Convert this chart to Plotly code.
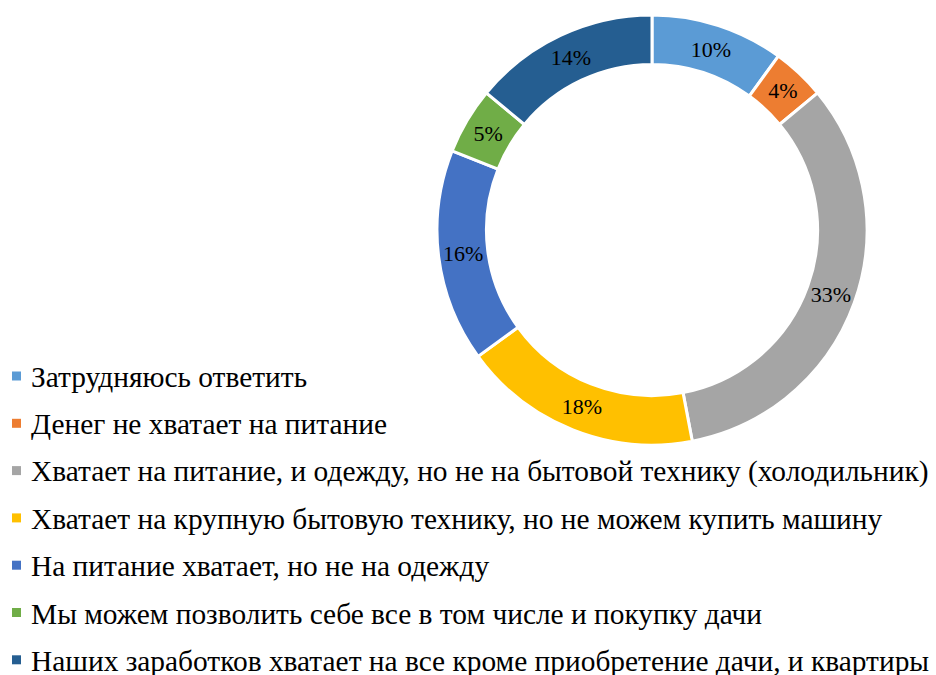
import plotly.graph_objects as go

labels = [
    "Затрудняюсь ответить",
    "Денег не хватает на питание",
    "Хватает на питание, и одежду, но не на бытовой технику (холодильник)",
    "Хватает на крупную бытовую технику, но не можем купить машину",
    "На питание хватает, но не на одежду",
    "Мы можем позволить себе все в том числе и покупку дачи",
    "Наших заработков хватает на все кроме приобретение дачи, и квартиры",
]
values = [10, 4, 33, 18, 16, 5, 14]
colors = ["#5B9BD5", "#ED7D31", "#A5A5A5", "#FFC000", "#4472C4", "#70AD47", "#255E91"]

W, H = 936, 675
FONT = "Liberation Serif"

fig = go.Figure()
fig.add_trace(go.Pie(
    labels=labels,
    values=values,
    hole=0.77,
    sort=False,
    direction="clockwise",
    rotation=0,
    marker=dict(colors=colors, line=dict(color="white", width=3)),
    texttemplate="%{percent:.0%}",
    textposition="inside",
    insidetextorientation="horizontal",
    textfont=dict(family=FONT, size=22, color="black"),
    showlegend=False,
    domain=dict(x=[437 / W, 867 / W], y=[1 - 445 / H, 1 - 15 / H]),
))

# manual legend
shapes = []
annotations = []
y0 = 376
step = 47.3
for i, (lab, col) in enumerate(zip(labels, colors)):
    yc = y0 + i * step
    shapes.append(dict(type="rect", xref="paper", yref="paper",
                       x0=12 / W, x1=21 / W,
                       y0=1 - (yc + 4.5) / H, y1=1 - (yc - 4.5) / H,
                       fillcolor=col, line=dict(width=0)))
    annotations.append(dict(text=lab, xref="paper", yref="paper",
                            x=29 / W, y=1 - (yc + 1) / H,
                            xanchor="left", yanchor="middle", showarrow=False,
                            font=dict(family=FONT, size=29.4, color="black")))

fig.update_layout(
    width=W, height=H,
    margin=dict(l=0, r=0, t=0, b=0),
    paper_bgcolor="white", plot_bgcolor="white",
    font=dict(family=FONT),
    shapes=shapes, annotations=annotations,
    uniformtext=dict(mode="show", minsize=22),
)
fig.write_html("out.html")
